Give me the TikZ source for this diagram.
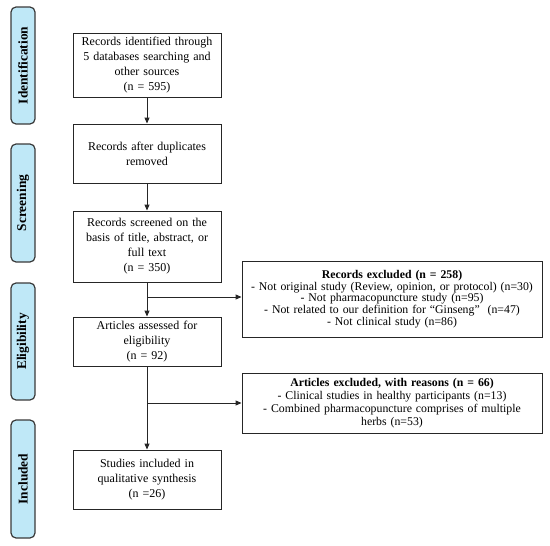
\documentclass[tikz,border=0pt]{standalone}
\usepackage{fontspec}
\setmainfont{Liberation Serif}
\usetikzlibrary{arrows.meta}
\definecolor{sidefill}{HTML}{BFE8F7}
\definecolor{sideline}{HTML}{3A3A3A}
\tikzset{
  flowbox/.style={draw=black!85, line width=0.9pt, align=center, inner sep=2pt,
    text width=#1, font=\fontsize{12}{15}\selectfont},
  flowbox/.default=144pt,
  exbox/.style={draw=black!85, line width=0.9pt, align=center, inner sep=2pt,
    minimum width=300pt, text width=296pt},
  sidebar/.style={draw=sideline, fill=sidefill, line width=1.2pt, rounded corners=5pt,
    minimum width=24pt, rotate=90, font=\bfseries\fontsize{13.4}{15}\selectfont},
  arr/.style={-{Triangle[length=6pt,width=5pt]}, line width=0.9pt, black!85}
}
\begin{document}
\begin{tikzpicture}[x=1pt,y=-1pt]
\useasboundingbox (0,0) rectangle (550,546);
% sidebars
\node[sidebar, minimum width=117pt, minimum height=24pt] (sid) at (23,65.5) {Identification};
\node[sidebar, minimum width=118pt, minimum height=24pt] (sscr) at (23,203) {Screening};
\node[sidebar, minimum width=117pt, minimum height=24pt] (selig) at (23,341.5) {Eligibility};
\node[sidebar, minimum width=118pt, minimum height=24pt] (sinc) at (23,479) {Included};
% main boxes
\node[flowbox, minimum width=148pt, minimum height=64pt] (b1) at (147,65)
  {Records identified through\\5 databases searching and\\other sources\\(n = 595)};
\node[flowbox, minimum width=148pt, minimum height=59pt] (b2) at (147,153.5)
  {Records after duplicates\\removed};
\node[flowbox, minimum width=148pt, minimum height=71pt] (b3) at (147,246.5)
  {Records screened on the\\basis of title, abstract, or\\full text\\(n = 350)};
\node[flowbox, minimum width=148pt, minimum height=49pt] (b4) at (147,341.5)
  {Articles assessed for\\eligibility\\(n = 92)};
\node[flowbox, minimum width=148pt, minimum height=59pt] (b5) at (147,479.5)
  {Studies included in\\qualitative synthesis\\(n =26)};
% exclusion boxes
\node[exbox, minimum height=76pt, font=\fontsize{11.8}{11.6}\selectfont] (e1) at (392,299)
  {\textbf{Records excluded (n = 258)}\\
   - Not original study (Review, opinion, or protocol) (n=30)\\
   - Not pharmacopuncture study (n=95)\\
   - Not related to our definition for “Ginseng”\ \ (n=47)\\
   - Not clinical study (n=86)};
\node[exbox, minimum height=60pt, font=\fontsize{11.8}{12.8}\selectfont, text width=286pt] (e2) at (392,403)
  {\textbf{Articles excluded, with reasons (n = 66)}\\
   - Clinical studies in healthy participants (n=13)\\
   - Combined pharmacopuncture comprises of multiple\\
   herbs (n=53)};
% connectors
\coordinate (j1) at (147,297);
\coordinate (j2) at (147,403);
\draw[arr] (b1.south) -- (b2.north);
\draw[arr] (b2.south) -- (b3.north);
\draw[arr] (b3.south) -- (b4.north);
\draw[arr] (j1) -- (j1 -| e1.west);
\draw[arr] (b4.south) -- (b5.north);
\draw[arr] (j2) -- (j2 -| e2.west);
\end{tikzpicture}
\end{document}
